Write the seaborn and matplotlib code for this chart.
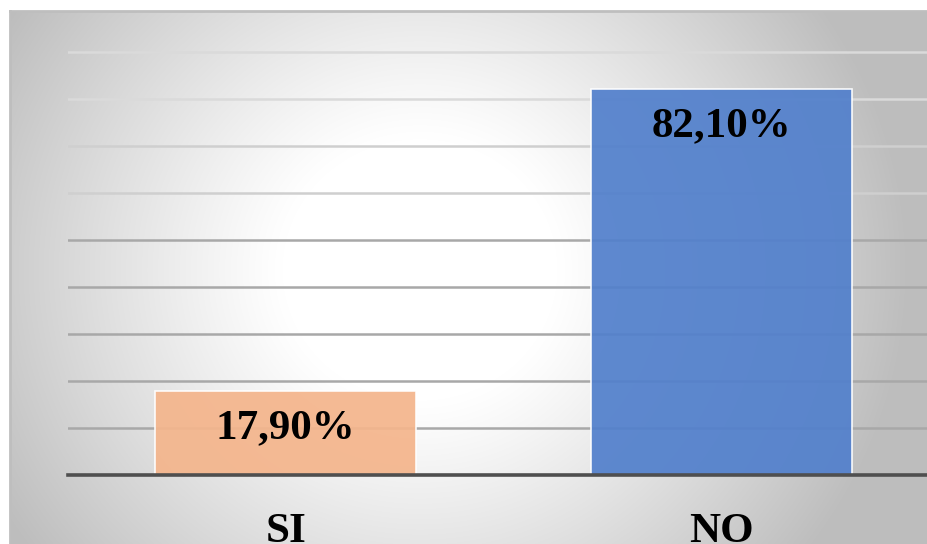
import numpy as np
import matplotlib
matplotlib.use("Agg")
import matplotlib.pyplot as plt
import seaborn as sns
import pandas as pd

# ---- data ----
categories = ["SI", "NO"]
values = [17.90, 82.10]
value_labels = ["17,90%", "82,10%"]
grid_levels = [10, 20, 30, 40, 50, 60, 70, 80, 90]

# ---- style ----
bar_colors = ["#F4B58C", "#5280CC"]
grid_colors = ["#A8A8A8", "#A8A8A8", "#A8A8A8", "#A8A8A8", "#A8A8A8",
               "#CFCFCF", "#CFCFCF", "#DADADA", "#DADADA"]
FONT = "Liberation Serif"

W, H = 927, 544
fig = plt.figure(figsize=(W / 100, H / 100), dpi=100)
fig.patch.set_facecolor("white")

# background frame with radial gradient
fx0, fy0 = 10, 11
bg = fig.add_axes([fx0 / W, 0, 1 - fx0 / W, (H - fy0) / H])
ys, xs = np.mgrid[fy0:H, fx0:W] + 0.5
d = np.hypot(xs - 420, (ys - 270) * 1.05) / 490
v = 255 - 66 * np.clip((d - 0.28) / 0.72, 0, 1) ** 1.1
img = np.dstack([v, v, v]) / 255
bg.imshow(img, aspect="auto", interpolation="bilinear")
bg.set_axis_off()
fig.add_artist(plt.Line2D([fx0 / W, fx0 / W], [0, (H - fy0) / H],
                          color="#BEBEBE", lw=2, transform=fig.transFigure))
fig.add_artist(plt.Line2D([fx0 / W, 1], [(H - fy0) / H, (H - fy0) / H],
                          color="#BEBEBE", lw=2, transform=fig.transFigure))

# main axes
x_left, x_right, y_base, y_top = 68, 939, 475, 11
ax = fig.add_axes([x_left / W, (H - y_base) / H, (x_right - x_left) / W,
                   (y_base - y_top) / H])
ax.patch.set_alpha(0)

df = pd.DataFrame({"cat": categories, "val": values})
sns.barplot(data=df, x="cat", y="val", hue="cat", palette=bar_colors,
            saturation=1, legend=False, width=0.6, ax=ax, alpha=0.93,
            edgecolor=(1, 1, 1, 0.55), linewidth=1.2, zorder=2)

for lvl, c in zip(grid_levels, grid_colors):
    ax.axhline(lvl, color=c, lw=1.8, zorder=1)

ax.set_xlim(-0.5, 1.5)
ax.set_ylim(0, (y_base - y_top) / 4.7)
for s in ["top", "right", "left"]:
    ax.spines[s].set_visible(False)
ax.spines["bottom"].set_color("#4F4F4F")
ax.spines["bottom"].set_linewidth(2.6)
ax.spines["bottom"].set_zorder(3)
ax.set_yticks([])
ax.set_xlabel("")
ax.set_ylabel("")
ax.tick_params(axis="x", length=0, pad=27)
ax.set_xticks(range(len(categories)))
ax.set_xticklabels(categories, fontsize=31, fontweight="bold", family=FONT)

for i, (val, lab) in enumerate(zip(values, value_labels)):
    ax.annotate(lab, xy=(i, val), xytext=(0, -37), textcoords="offset pixels",
                ha="center", va="center", fontsize=31, fontweight="bold",
                family=FONT, color="black", zorder=4)

fig.savefig("out.png", dpi=100)
